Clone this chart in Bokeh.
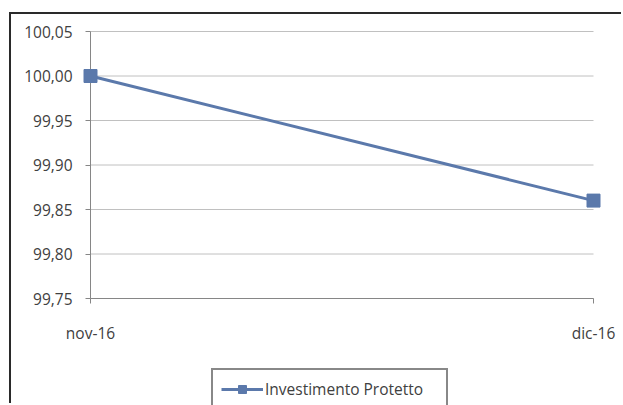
from bokeh.plotting import figure
from bokeh.models import (Range1d, FixedTicker, CustomJSTickFormatter, Legend, LegendItem,
                          ColumnDataSource, LinearAxis)
from bokeh.embed import file_html
from bokeh.resources import INLINE

# ---- data ----
categories = ["nov-16", "dic-16"]
values = [100.00, 99.86]
series_name = "Investimento Protetto"
y_ticks = [99.75, 99.80, 99.85, 99.90, 99.95, 100.00, 100.05]
y_tick_labels = ["99,75", "99,80", "99,85", "99,90", "99,95", "100,00", "100,05"]

x_pos = list(range(len(categories)))
src = ColumnDataSource(dict(x=x_pos, y=values, cat=categories))
grid_src = ColumnDataSource(dict(y=y_ticks))

FONT = "Open Sans"
TXT = "#404040"
AX = "#868686"
GRID = "#C0C0C0"
BLUE = "#5B79AB"

# layout (pixels): canvas 612x391; plot area spans 79..582 horizontally, 17..284 vertically
W, H = 612, 391
PL, PR, PT, PB = 79, 582, 17, 284
xs = (PR - PL) / (x_pos[-1] - x_pos[0])
ys = (PB - PT) / (y_ticks[-1] - y_ticks[0])
x_range = Range1d(x_pos[0] - PL / xs, x_pos[-1] + (W - PR) / xs)
y_range = Range1d(y_ticks[0] - (H - PB) / ys, y_ticks[-1] + PT / ys)

p = figure(width=W, height=H, output_backend="svg", toolbar_location=None,
           x_range=x_range, y_range=y_range, min_border=0,
           x_axis_location=None, y_axis_location=None)
p.margin = (12, 0, 0, 9)
p.styles = {"border-left": "2px solid #2a2a2a", "border-top": "2px solid #2a2a2a"}
p.outline_line_color = None
p.background_fill_color = "white"
p.border_fill_color = "white"
p.xgrid.visible = False
p.ygrid.visible = False

# horizontal gridlines between the first and last category
p.segment(x0=x_pos[0], x1=x_pos[-1], y0="y", y1="y", source=grid_src,
          line_color=GRID, line_width=1, level="underlay")

yax = LinearAxis(fixed_location=x_pos[0], bounds=(y_ticks[0], y_ticks[-1]),
                 ticker=FixedTicker(ticks=y_ticks),
                 formatter=CustomJSTickFormatter(args=dict(tv=y_ticks, labs=y_tick_labels), code="""
let b = 0;
for (let i = 0; i < tv.length; i++) { if (Math.abs(tv[i]-tick) < Math.abs(tv[b]-tick)) b = i; }
return labs[b];
"""))
xax = LinearAxis(fixed_location=y_ticks[0], bounds=(x_pos[0], x_pos[-1]),
                 ticker=FixedTicker(ticks=x_pos),
                 formatter=CustomJSTickFormatter(args=dict(labs=categories), code="""
return labs[Math.round(tick)];
"""))
for ax in (yax, xax):
    ax.level = "underlay"
    ax.axis_line_color = AX
    ax.major_tick_line_color = AX
    ax.major_tick_out = 5
    ax.major_tick_in = 0
    ax.minor_tick_line_color = None
    ax.major_label_text_font = FONT
    ax.major_label_text_font_size = "15.5px"
    ax.major_label_text_color = TXT
yax.major_label_standoff = 13
xax.major_label_standoff = 18
p.add_layout(yax, "left")
p.add_layout(xax, "below")

ln = p.line("x", "y", source=src, line_color=BLUE, line_width=3)
sc = p.scatter("x", "y", source=src, marker="square", size=13, fill_color=BLUE, line_color=BLUE)

legend = Legend(items=[LegendItem(label=series_name, renderers=[ln, sc])],
                location=(200, -5), orientation="horizontal",
                padding=8, margin=0, spacing=0,
                glyph_width=42, glyph_height=20, label_standoff=2, label_width=173,
                label_text_font=FONT, label_text_font_size="15.5px", label_text_color=TXT,
                border_line_color="#111111", border_line_width=2.5,
                background_fill_color="white", background_fill_alpha=1)
p.add_layout(legend, "center")

open("out.html", "w").write(file_html(p, INLINE))
